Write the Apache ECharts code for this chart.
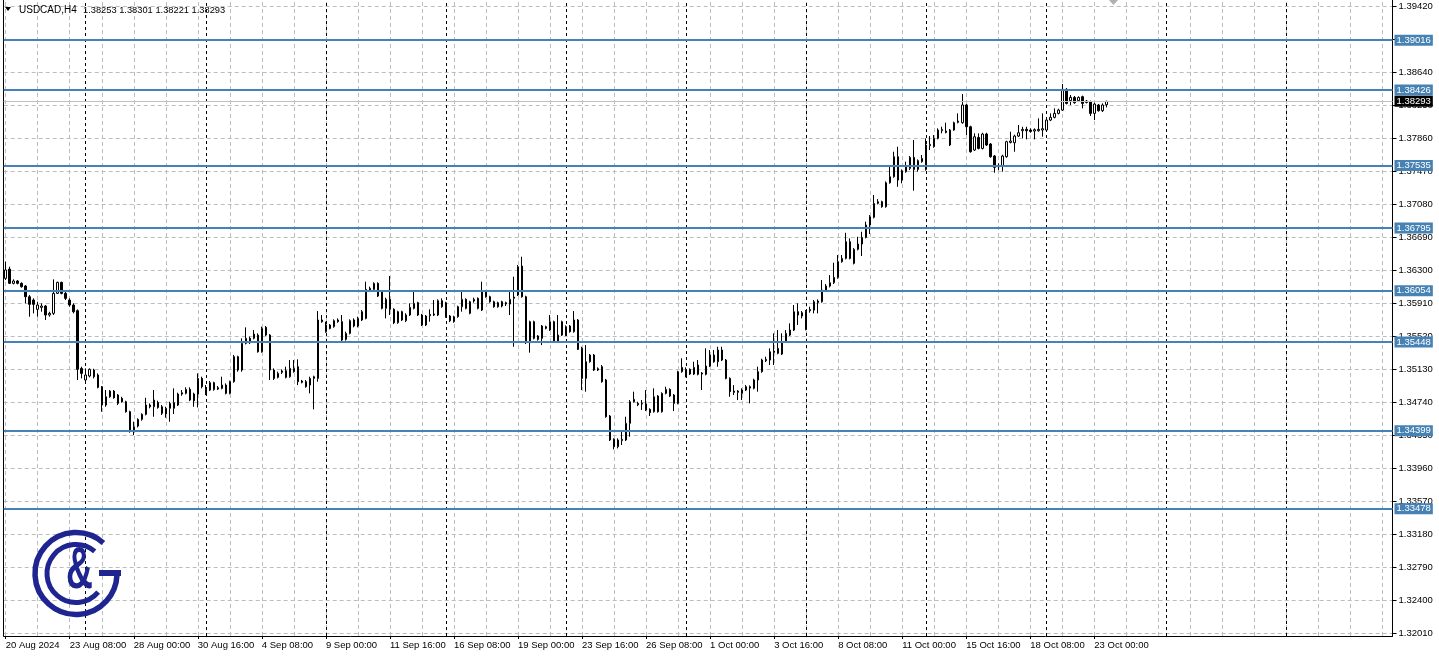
<!DOCTYPE html>
<html>
<head>
<meta charset="utf-8">
<script src="https://cdn.jsdelivr.net/npm/echarts@6/dist/echarts.min.js"></script>
<style>
html,body{margin:0;padding:0;background:#ffffff;}
#chart{width:1439px;height:658px;}
</style>
</head>
<body>
<div id="chart"></div>
<script>
// ---------------- DATA ----------------
const symbolName = 'USDCAD,H4';

const opens = [
1.36201,1.36311,1.36142,1.36170,1.36142,1.36111,1.35984,1.35945,1.35835,1.35858,
1.35874,1.35768,1.35788,1.36024,1.36154,1.36024,1.35945,1.35886,1.35819,1.35137,
1.35000,1.35047,1.35118,1.35059,1.34921,1.34704,1.34802,1.34869,1.34822,1.34783,
1.34743,1.34625,1.34389,1.34456,1.34535,1.34594,1.34704,1.34684,1.34735,1.34684,
1.34598,1.34665,1.34665,1.34704,1.34834,1.34842,1.34889,1.34834,1.34834,1.35019,
1.34834,1.34881,1.34968,1.34893,1.34901,1.34940,1.34842,1.34980,1.35275,1.35118,
1.35433,1.35492,1.35492,1.35531,1.35334,1.35622,1.35531,1.35118,1.35031,1.35090,
1.35031,1.35039,1.35098,1.35157,1.34988,1.34980,1.34940,1.35019,1.35019,1.35709,
1.35571,1.35650,1.35630,1.35689,1.35689,1.35480,1.35551,1.35638,1.35638,1.35709,
1.35728,1.36063,1.36071,1.36142,1.36044,1.35847,1.35953,1.35835,1.35677,1.35807,
1.35701,1.35768,1.35847,1.35914,1.35768,1.35650,1.35760,1.35768,1.35768,1.35937,
1.35914,1.35756,1.35689,1.35748,1.35866,1.35953,1.35788,1.35933,1.35965,1.35827,
1.36044,1.35984,1.35925,1.35866,1.35925,1.35898,1.35898,1.35965,1.36004,1.36347,
1.35984,1.35441,1.35689,1.35520,1.35492,1.35610,1.35590,1.35689,1.35453,1.35531,
1.35531,1.35638,1.35571,1.35709,1.35374,1.35019,1.35216,1.35295,1.35133,1.35157,
1.35000,1.34574,1.34299,1.34212,1.34283,1.34291,1.34488,1.34743,1.34724,1.34716,
1.34716,1.34653,1.34625,1.34810,1.34625,1.34842,1.34889,1.34822,1.34724,1.35098,
1.35047,1.35126,1.35071,1.35177,1.35071,1.35067,1.35165,1.35295,1.35216,1.35354,
1.35236,1.35019,1.34869,1.34854,1.34842,1.34881,1.34905,1.34901,1.35000,1.35098,
1.35228,1.35236,1.35327,1.35315,1.35307,1.35453,1.35531,1.35590,1.35807,1.35795,
1.35598,1.35818,1.35826,1.35933,1.35925,1.36055,1.36110,1.36150,1.36213,1.36398,
1.36437,1.36634,1.36378,1.36544,1.36607,1.36685,1.36831,1.36922,1.37087,1.37107,
1.37048,1.37331,1.37402,1.37639,1.37363,1.37462,1.37501,1.37631,1.37489,1.37580,
1.37489,1.37769,1.37757,1.37856,1.37946,1.37942,1.37777,1.37954,1.38045,1.38041,
1.38250,1.37993,1.37718,1.37867,1.37737,1.37907,1.37789,1.37647,1.37536,1.37529,
1.37639,1.37808,1.37804,1.37883,1.37946,1.37962,1.37954,1.37942,1.37946,1.37954,
1.37954,1.38072,1.38104,1.38151,1.38190,1.38435,1.38301,1.38340,1.38301,1.38348,
1.38297,1.38289,1.38151,1.38250,1.38183,1.38253
];
const highs = [
1.36398,1.36339,1.36189,1.36181,1.36154,1.36122,1.36004,1.35965,1.35925,1.35906,
1.35886,1.35807,1.36189,1.36162,1.36162,1.36044,1.35965,1.35906,1.35835,1.35157,
1.35137,1.35137,1.35133,1.35078,1.34929,1.34881,1.34881,1.34881,1.34834,1.34802,
1.34755,1.34637,1.34507,1.34547,1.34606,1.34790,1.34724,1.34881,1.34755,1.34704,
1.34684,1.34743,1.34901,1.34850,1.34881,1.34913,1.34913,1.34850,1.35078,1.35039,
1.34940,1.34988,1.34980,1.34929,1.35039,1.34960,1.34992,1.35295,1.35287,1.35492,
1.35622,1.35512,1.35590,1.35551,1.35630,1.35638,1.35543,1.35137,1.35098,1.35126,
1.35157,1.35236,1.35236,1.35244,1.35000,1.35000,1.35039,1.35051,1.35815,1.35768,
1.35689,1.35661,1.35717,1.35728,1.35768,1.35571,1.35717,1.35728,1.35748,1.35827,
1.36162,1.36103,1.36154,1.36154,1.36063,1.35973,1.36229,1.35847,1.35819,1.35819,
1.35788,1.35906,1.36044,1.35925,1.35780,1.35768,1.35835,1.35945,1.35953,1.35965,
1.35925,1.35768,1.35760,1.35878,1.36063,1.35965,1.35937,1.35973,1.35976,1.36162,
1.36063,1.35996,1.35937,1.35925,1.35937,1.35925,1.36063,1.36221,1.36359,1.36457,
1.35996,1.35701,1.35701,1.35531,1.35650,1.35642,1.35768,1.35701,1.35768,1.35701,
1.35646,1.35650,1.35815,1.35720,1.35393,1.35413,1.35307,1.35307,1.35149,1.35177,
1.35012,1.34586,1.34310,1.34310,1.34389,1.34566,1.34763,1.34862,1.34743,1.34763,
1.34881,1.34665,1.34901,1.34822,1.34854,1.34921,1.34901,1.34834,1.35110,1.35256,
1.35149,1.35137,1.35216,1.35236,1.35094,1.35374,1.35354,1.35354,1.35393,1.35393,
1.35248,1.35031,1.34940,1.34881,1.34901,1.34940,1.34936,1.35015,1.35157,1.35252,
1.35275,1.35374,1.35551,1.35590,1.35551,1.35590,1.35669,1.35886,1.35906,1.35815,
1.35827,1.35866,1.35945,1.35953,1.36181,1.36134,1.36240,1.36386,1.36477,1.36477,
1.36740,1.36674,1.36559,1.36693,1.36752,1.36871,1.36949,1.37186,1.37138,1.37119,
1.37347,1.37540,1.37698,1.37757,1.37489,1.37580,1.37647,1.37836,1.37607,1.37659,
1.37856,1.37883,1.37895,1.37974,1.37993,1.38041,1.37966,1.38053,1.38151,1.38380,
1.38261,1.38005,1.37915,1.37915,1.37922,1.37922,1.37800,1.37659,1.37560,1.37662,
1.37828,1.37934,1.37899,1.38013,1.37993,1.37993,1.37974,1.37974,1.38092,1.38151,
1.38088,1.38151,1.38210,1.38206,1.38498,1.38450,1.38368,1.38356,1.38352,1.38360,
1.38309,1.38301,1.38277,1.38261,1.38269,1.38301
];
const lows = [
1.36181,1.36134,1.36130,1.36130,1.36091,1.35906,1.35748,1.35788,1.35748,1.35807,
1.35709,1.35748,1.35768,1.36016,1.36012,1.35945,1.35866,1.35788,1.35000,1.35019,
1.34980,1.35031,1.35019,1.34901,1.34625,1.34684,1.34790,1.34779,1.34704,1.34732,
1.34614,1.34377,1.34350,1.34440,1.34519,1.34582,1.34665,1.34566,1.34661,1.34586,
1.34554,1.34507,1.34598,1.34692,1.34814,1.34830,1.34751,1.34684,1.34676,1.34901,
1.34822,1.34869,1.34873,1.34881,1.34889,1.34830,1.34830,1.34968,1.35098,1.35098,
1.35421,1.35425,1.35480,1.35323,1.35323,1.35520,1.35000,1.35000,1.35019,1.35071,
1.35019,1.35027,1.35086,1.34940,1.34960,1.34909,1.34842,1.34653,1.34980,1.35677,
1.35559,1.35598,1.35618,1.35677,1.35461,1.35465,1.35539,1.35622,1.35622,1.35697,
1.35717,1.36052,1.36059,1.35980,1.35835,1.35728,1.35768,1.35661,1.35665,1.35697,
1.35685,1.35756,1.35835,1.35756,1.35638,1.35638,1.35689,1.35756,1.35756,1.35854,
1.35736,1.35685,1.35677,1.35736,1.35807,1.35835,1.35776,1.35914,1.35835,1.35815,
1.35973,1.35914,1.35854,1.35854,1.35858,1.35874,1.35768,1.35393,1.35992,1.35973,
1.35425,1.35323,1.35480,1.35465,1.35413,1.35598,1.35579,1.35441,1.35441,1.35520,
1.35520,1.35559,1.35559,1.35354,1.34881,1.34862,1.35204,1.35106,1.35106,1.34968,
1.34554,1.34279,1.34180,1.34192,1.34232,1.34279,1.34330,1.34732,1.34692,1.34645,
1.34633,1.34574,1.34614,1.34614,1.34614,1.34830,1.34799,1.34633,1.34712,1.35086,
1.35031,1.35059,1.35059,1.35055,1.34881,1.35055,1.35153,1.35204,1.35157,1.35224,
1.35008,1.34802,1.34822,1.34763,1.34763,1.34869,1.34724,1.34889,1.34862,1.35086,
1.35212,1.35177,1.35177,1.35303,1.35295,1.35441,1.35520,1.35579,1.35650,1.35728,
1.35587,1.35795,1.35787,1.35787,1.35913,1.36039,1.36094,1.36134,1.36197,1.36386,
1.36425,1.36425,1.36366,1.36532,1.36465,1.36674,1.36725,1.36910,1.37075,1.37036,
1.37036,1.37320,1.37391,1.37284,1.37324,1.37450,1.37481,1.37237,1.37462,1.37568,
1.37473,1.37718,1.37745,1.37844,1.37915,1.37915,1.37765,1.37946,1.38033,1.38029,
1.37895,1.37686,1.37706,1.37725,1.37725,1.37765,1.37627,1.37450,1.37481,1.37462,
1.37627,1.37796,1.37698,1.37871,1.37856,1.37844,1.37922,1.37844,1.37934,1.37875,
1.37942,1.38060,1.38092,1.38139,1.38179,1.38257,1.38250,1.38265,1.38289,1.38210,
1.38269,1.38120,1.38072,1.38171,1.38167,1.38221
];
const closes = [
1.36300,1.36142,1.36170,1.36142,1.36103,1.35984,1.35894,1.35894,1.35886,1.35874,
1.35768,1.35788,1.36024,1.36154,1.36024,1.35965,1.35886,1.35807,1.35126,1.35078,
1.35059,1.35126,1.35039,1.34913,1.34704,1.34802,1.34869,1.34790,1.34724,1.34743,
1.34625,1.34397,1.34448,1.34535,1.34594,1.34704,1.34684,1.34763,1.34676,1.34606,
1.34665,1.34724,1.34732,1.34834,1.34850,1.34889,1.34763,1.34755,1.35019,1.34921,
1.34889,1.34968,1.34889,1.34909,1.34940,1.34842,1.34980,1.35275,1.35118,1.35433,
1.35492,1.35441,1.35543,1.35334,1.35610,1.35531,1.35118,1.35019,1.35078,1.35106,
1.35110,1.35137,1.35137,1.34980,1.34972,1.34921,1.35019,1.35039,1.35709,1.35689,
1.35650,1.35610,1.35701,1.35709,1.35472,1.35551,1.35701,1.35709,1.35728,1.35807,
1.36071,1.36083,1.36142,1.35992,1.35847,1.35953,1.35835,1.35677,1.35807,1.35709,
1.35768,1.35858,1.35906,1.35768,1.35650,1.35756,1.35776,1.35780,1.35937,1.35866,
1.35748,1.35701,1.35748,1.35866,1.35953,1.35847,1.35925,1.35953,1.35847,1.36044,
1.35984,1.35925,1.35866,1.35914,1.35874,1.35914,1.35953,1.35980,1.36339,1.35984,
1.35441,1.35689,1.35492,1.35480,1.35638,1.35630,1.35689,1.35453,1.35531,1.35689,
1.35630,1.35571,1.35709,1.35362,1.35019,1.35216,1.35295,1.35118,1.35118,1.34980,
1.34566,1.34291,1.34212,1.34291,1.34299,1.34488,1.34743,1.34771,1.34708,1.34724,
1.34645,1.34614,1.34802,1.34625,1.34842,1.34889,1.34810,1.34724,1.35098,1.35149,
1.35126,1.35071,1.35149,1.35067,1.35082,1.35165,1.35295,1.35216,1.35354,1.35236,
1.35019,1.34862,1.34854,1.34869,1.34881,1.34921,1.34921,1.35000,1.35098,1.35236,
1.35244,1.35334,1.35342,1.35374,1.35453,1.35551,1.35590,1.35807,1.35768,1.35756,
1.35807,1.35834,1.35925,1.35917,1.36063,1.36110,1.36150,1.36213,1.36398,1.36437,
1.36634,1.36437,1.36544,1.36607,1.36685,1.36831,1.36930,1.37087,1.37107,1.37048,
1.37331,1.37402,1.37639,1.37363,1.37473,1.37529,1.37631,1.37489,1.37592,1.37619,
1.37777,1.37785,1.37856,1.37954,1.37962,1.37926,1.37954,1.38041,1.38060,1.38250,
1.37993,1.37698,1.37875,1.37737,1.37907,1.37777,1.37639,1.37513,1.37521,1.37647,
1.37816,1.37824,1.37883,1.37922,1.37962,1.37946,1.37938,1.37958,1.37962,1.37970,
1.38072,1.38104,1.38151,1.38190,1.38435,1.38269,1.38340,1.38277,1.38340,1.38269,
1.38281,1.38151,1.38261,1.38183,1.38250,1.38293
];

// time-axis tick labels (one every 16 bars, starting at the first bar)
const xTickLabels = ['20 Aug 2024','23 Aug 08:00','28 Aug 00:00','30 Aug 16:00','4 Sep 08:00',
  '9 Sep 00:00','11 Sep 16:00','16 Sep 08:00','19 Sep 00:00','23 Sep 16:00','26 Sep 08:00',
  '1 Oct 00:00','3 Oct 16:00','8 Oct 08:00','11 Oct 00:00','15 Oct 16:00','18 Oct 08:00','23 Oct 00:00'];
const xTickEvery = 16;

// price-axis tick labels, bottom to top
const yTickLabels = ['1.32010','1.32400','1.32790','1.33180','1.33570','1.33960','1.34350',
  '1.34740','1.35130','1.35520','1.35910','1.36300','1.36690','1.37080','1.37470','1.37860',
  '1.38250','1.38640','1.39030','1.39420'];

// horizontal support / resistance levels
const levels = [1.39016, 1.38426, 1.37535, 1.36795, 1.36054, 1.35448, 1.34399, 1.33478];
const bidPrice = 1.38293;

// bars where a new week starts (period separators)
const weekStarts = [20, 50, 80, 110, 140, 170, 200, 230, 260, 290, 320];

// ---------------- LAYOUT / STYLE ----------------
const FONT = '"Liberation Sans", Arial, sans-serif';
const NAVY = '#1f2590';
const LEVEL_BLUE = '#4682B4';
const GRID_GREY = '#bdbdbd';
const slotCount = 347;            // visible bar slots (incl. empty space on the right)
const priceTop = 1.394909, priceBottom = 1.319745;  // price at plot top / bottom edge
const gridLeft = 3.7, gridRight = 46.5, gridTop = 0, gridBottom = 22;

const categories = Array.from({length: slotCount}, (_, i) => String(i));
const candleData = opens.map((o, i) => [o, closes[i], lows[i], highs[i]]);

const vGrid = [];
for (let i = 0; i < slotCount; i += 8) vGrid.push({xAxis: i});

const last = opens.length - 1;
const headerValues = [opens[last], highs[last], lows[last], closes[last]].map(v => v.toFixed(5)).join(' ');

const chart = echarts.init(document.getElementById('chart'), null, {renderer: 'canvas'});

const option = {
  animation: false,
  backgroundColor: '#ffffff',
  textStyle: {fontFamily: FONT},
  grid: [
    {left: gridLeft, right: gridRight, top: gridTop, bottom: gridBottom, containLabel: false},
    {left: gridLeft, right: gridRight, top: 6, bottom: 25, containLabel: false}
  ],
  xAxis: [
    {
      type: 'category', gridIndex: 0, data: categories, boundaryGap: true,
      axisLine: {show: true, onZero: false, lineStyle: {color: '#000', width: 1}},
      axisTick: {show: true, alignWithLabel: true, length: 3, inside: false,
        interval: (idx) => idx % xTickEvery === 0 && idx / xTickEvery < xTickLabels.length,
        lineStyle: {color: '#000'}},
      axisLabel: {
        show: true, align: 'left', margin: 4, color: '#000', fontSize: 9.5, fontFamily: FONT,
        interval: (idx) => idx % xTickEvery === 0 && idx / xTickEvery < xTickLabels.length,
        formatter: (val, idx) => xTickLabels[idx / xTickEvery] || ''
      },
      splitLine: {show: false}
    },
    {type: 'value', gridIndex: 1, min: 0, max: 1, show: false}
  ],
  yAxis: [
    {
      type: 'value', gridIndex: 0, position: 'right', min: priceBottom, max: priceTop, scale: true,
      axisLine: {show: true, onZero: false, lineStyle: {color: '#000', width: 1}},
      axisTick: {show: false}, axisLabel: {show: false}, splitLine: {show: false}
    },
    {
      type: 'value', gridIndex: 0, position: 'left', min: priceBottom, max: priceTop, scale: true,
      axisLine: {show: true, onZero: false, lineStyle: {color: '#000', width: 1}},
      axisTick: {show: false}, axisLabel: {show: false}, splitLine: {show: false}
    },
    {
      type: 'value', gridIndex: 1, position: 'right', min: 0, max: yTickLabels.length - 1, interval: 1,
      axisLine: {show: false, onZero: false},
      axisTick: {show: true, length: 4, inside: false, lineStyle: {color: '#000'}},
      axisLabel: {show: true, margin: 6, color: '#000', fontSize: 9.5, fontFamily: FONT,
        formatter: (v) => yTickLabels[Math.round(v)] || ''},
      splitLine: {show: true, lineStyle: {color: GRID_GREY, width: 1, type: [4, 3]}}
    }
  ],
  series: [
    {
      name: 'grid', type: 'line', xAxisIndex: 0, yAxisIndex: 0, data: [], silent: true,
      markLine: {
        silent: true, z: 1, symbol: ['none', 'none'], animation: false, precision: 5,
        label: {show: false}, emphasis: {disabled: true},
        lineStyle: {color: GRID_GREY, width: 1, type: [4, 3]},
        data: vGrid
      }
    },
    {
      name: 'separators', type: 'line', xAxisIndex: 0, yAxisIndex: 0, data: [], silent: true,
      markLine: {
        silent: true, z: 1, symbol: ['none', 'none'], animation: false, precision: 5,
        label: {show: false}, emphasis: {disabled: true},
        lineStyle: {color: '#000', width: 1, type: [3, 3]},
        data: weekStarts.map(i => ({xAxis: i}))
      }
    },
    {
      name: symbolName, type: 'candlestick', xAxisIndex: 0, yAxisIndex: 0,
      data: candleData, barWidth: 2, silent: true,
      itemStyle: {color: '#ffffff', color0: '#000000', borderColor: '#000000', borderColor0: '#000000', borderWidth: 1},
      emphasis: {disabled: true},
      markLine: {
        silent: true, z: 5, symbol: ['none', 'none'], animation: false, precision: 5,
        emphasis: {disabled: true},
        lineStyle: {color: LEVEL_BLUE, width: 2, type: 'solid'},
        label: {show: true, position: 'end', distance: 2, color: '#ffffff', backgroundColor: LEVEL_BLUE,
          fontSize: 9.5, fontFamily: FONT, padding: [1, 2, 0, 2],
          formatter: (p) => Number(p.value).toFixed(5)},
        data: levels.map(v => ({yAxis: v})).concat([{
          yAxis: bidPrice,
          lineStyle: {color: '#c0c0c0', width: 1, type: 'solid'},
          label: {show: true, position: 'end', distance: 2, color: '#ffffff', backgroundColor: '#000000',
            fontSize: 9.5, fontFamily: FONT, padding: [1, 2, 0, 2],
            formatter: (p) => Number(p.value).toFixed(5)}
        }])
      }
    }
  ],
  graphic: [
    // header
    {type: 'polygon', shape: {points: [[5, 7], [11, 7], [8, 11]]}, style: {fill: '#000'}, z: 10},
    {type: 'text', x: 19, y: 10, style: {text: symbolName, font: '10px ' + FONT, fill: '#000', verticalAlign: 'middle'}, z: 10},
    {type: 'text', x: 83, y: 10, style: {text: headerValues, font: '9.3px ' + FONT, fill: '#000', verticalAlign: 'middle'}, z: 10},
    // chart-shift marker
    {type: 'polygon', shape: {points: [[1109, 0], [1118, 0], [1113.5, 5]]}, style: {fill: '#b0b0b0'}, z: 10},
    // logo
    {type: 'arc', shape: {cx: 76, cy: 573.5, r: 41, startAngle: -0.84, endAngle: 0.04, clockwise: false},
      style: {stroke: NAVY, lineWidth: 5.5, fill: null}, z: 10},
    {type: 'arc', shape: {cx: 76, cy: 573.5, r: 29, startAngle: -0.87, endAngle: 0.7, clockwise: false},
      style: {stroke: NAVY, lineWidth: 5, fill: null}, z: 10},
    {type: 'rect', shape: {x: 99, y: 570, width: 22, height: 6}, style: {fill: NAVY}, z: 10},
    {type: 'text', x: 79.5, y: 571, scaleX: 0.62, style: {text: '&', font: 'bold 60px ' + FONT, fill: NAVY, align: 'center', verticalAlign: 'middle'}, z: 10}
  ]
};

chart.setOption(option);
</script>
</body>
</html>
